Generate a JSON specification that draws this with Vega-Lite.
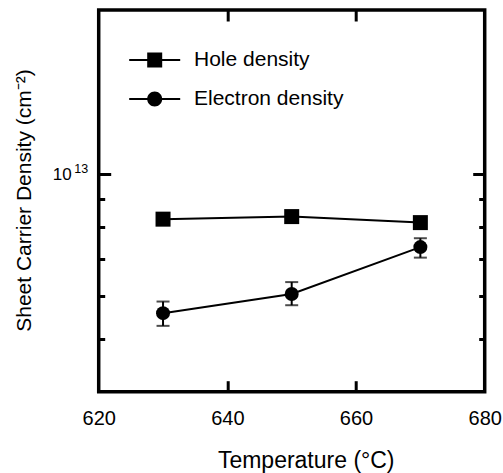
{
  "$schema": "https://vega.github.io/schema/vega-lite/v6.json",
  "autosize": {"type": "none"},
  "width": 386,
  "height": 381.7,
  "padding": {"left": 98.7, "top": 10, "right": 18.3, "bottom": 81.3},
  "background": "white",
  "config": {
    "font": "Liberation Sans",
    "view": {"stroke": "black", "strokeWidth": 3.5},
    "axis": {"domain": false, "grid": false, "labelColor": "black", "titleColor": "black", "tickColor": "black", "labelFlush": false}
  },
  "data": {
    "values": [
      {"series": "Hole density", "temp": 630, "density": 8.28e12},
      {"series": "Hole density", "temp": 650, "density": 8.37e12},
      {"series": "Hole density", "temp": 670, "density": 8.16e12},
      {"series": "Electron density", "temp": 630, "density": 5.57e12, "lo": 5.28e12, "hi": 5.85e12},
      {"series": "Electron density", "temp": 650, "density": 6.04e12, "lo": 5.76e12, "hi": 6.35e12},
      {"series": "Electron density", "temp": 670, "density": 7.36e12, "lo": 7.04e12, "hi": 7.64e12}
    ]
  },
  "layer": [
    {
      "mark": {"type": "line", "color": "black", "strokeWidth": 2},
      "encoding": {
        "x": {"field": "temp", "type": "quantitative", "scale": {"domain": [620, 680], "nice": false, "zero": false},
          "axis": {"orient": "bottom", "values": [620, 640, 660, 680], "ticks": false, "tickSize": 0, "labelPadding": 17, "labelFontSize": 20, "labelFont": "Liberation Sans",
            "title": "Temperature (°C)", "titleFontSize": 23, "titleFontWeight": "normal", "titleX": 207, "titleY": 76, "titleBaseline": "alphabetic", "titleAlign": "center"}},
        "y": {"field": "density", "type": "quantitative", "scale": {"type": "log", "domain": [4e12, 2e13], "nice": false},
          "axis": {"orient": "left", "values": [1e13], "labelExpr": "'10'", "ticks": false, "tickSize": 0, "labelPadding": 27.5, "labelFontSize": 17,
            "title": "Sheet Carrier Density (cm⁻²)", "titleFontSize": 21, "titleFontWeight": "normal", "titleAngle": 270, "titleX": -68, "titleY": 190, "titleBaseline": "alphabetic", "titleAlign": "center"}},
        "detail": {"field": "series", "type": "nominal"}
      }
    },
    {
      "transform": [{"filter": "datum.lo != null"}],
      "mark": {"type": "rule", "color": "black", "strokeWidth": 2},
      "encoding": {
        "x": {"field": "temp", "type": "quantitative", "scale": {"domain": [620, 680], "nice": false, "zero": false},
          "axis": {"orient": "bottom", "values": [640, 660], "labels": false, "tickSize": -11, "tickWidth": 3, "title": null}},
        "y": {"field": "lo", "type": "quantitative", "scale": {"type": "log", "domain": [4e12, 2e13], "nice": false},
          "axis": {"orient": "left", "values": [1e13], "labels": false, "tickSize": -12, "tickWidth": 3, "title": null}},
        "y2": {"field": "hi"}
      }
    },
    {
      "transform": [{"filter": "datum.lo != null"}],
      "mark": {"type": "tick", "color": "black", "orient": "horizontal", "size": 13, "thickness": 2},
      "encoding": {
        "x": {"field": "temp", "type": "quantitative", "scale": {"domain": [620, 680], "nice": false, "zero": false},
          "axis": {"orient": "top", "values": [640, 660], "labels": false, "tickSize": -11, "tickWidth": 3, "title": null}},
        "y": {"field": "lo", "type": "quantitative", "scale": {"type": "log", "domain": [4e12, 2e13], "nice": false},
          "axis": {"orient": "left", "values": [5e12, 6e12, 7e12, 8e12, 9e12], "labels": false, "tickSize": -6, "tickWidth": 3, "title": null}}
      }
    },
    {
      "transform": [{"filter": "datum.lo != null"}],
      "mark": {"type": "tick", "color": "black", "orient": "horizontal", "size": 13, "thickness": 2},
      "encoding": {
        "x": {"field": "temp", "type": "quantitative", "scale": {"domain": [620, 680], "nice": false, "zero": false}, "axis": null},
        "y": {"field": "hi", "type": "quantitative", "scale": {"type": "log", "domain": [4e12, 2e13], "nice": false},
          "axis": {"orient": "right", "values": [1e13], "labels": false, "tickSize": -12, "tickWidth": 3, "title": null}}
      }
    },
    {
      "transform": [{"filter": "datum.series == 'Hole density'"}],
      "mark": {"type": "point", "shape": "square", "filled": true, "color": "black", "opacity": 1, "size": 225},
      "encoding": {
        "x": {"field": "temp", "type": "quantitative", "scale": {"domain": [620, 680], "nice": false, "zero": false}, "axis": null},
        "y": {"field": "density", "type": "quantitative", "scale": {"type": "log", "domain": [4e12, 2e13], "nice": false},
          "axis": {"orient": "right", "values": [5e12, 6e12, 7e12, 8e12, 9e12], "labels": false, "tickSize": -6, "tickWidth": 3, "title": null}}
      }
    },
    {
      "transform": [{"filter": "datum.series == 'Electron density'"}],
      "mark": {"type": "point", "shape": "circle", "filled": true, "color": "black", "opacity": 1, "size": 196},
      "encoding": {
        "x": {"field": "temp", "type": "quantitative", "scale": {"domain": [620, 680], "nice": false, "zero": false}, "axis": null},
        "y": {"field": "density", "type": "quantitative", "scale": {"type": "log", "domain": [4e12, 2e13], "nice": false},
          "axis": {"orient": "left", "values": [1e13], "labelExpr": "'13'", "ticks": false, "tickSize": 0, "labelPadding": 11, "labelFontSize": 12.5, "labelOffset": -6, "title": null}}
      }
    },
    {
      "mark": {"type": "point", "filled": true, "color": "black", "opacity": 0, "size": 225},
      "encoding": {
        "x": {"field": "temp", "type": "quantitative", "scale": {"domain": [620, 680], "nice": false, "zero": false}, "axis": null},
        "y": {"field": "density", "type": "quantitative", "scale": {"type": "log", "domain": [4e12, 2e13], "nice": false}, "axis": null},
        "shape": {"field": "series", "type": "nominal",
          "scale": {"domain": ["Hole density", "Electron density"],
            "range": ["M-3.4,-0.14H3.4V0.14H-3.4Z M-1,-1H1V1H-1Z", "M-3.4,-0.14H3.4V0.14H-3.4Z M-1,0A1,1,0,1,1,1,0A1,1,0,1,1,-1,0Z"]},
          "legend": {"orient": "none", "legendX": 45.5, "legendY": 39.5, "title": null, "padding": 0,
            "symbolSize": 225, "symbolFillColor": "black", "symbolStrokeColor": "black", "symbolStrokeWidth": 0, "symbolOpacity": 1,
            "labelFontSize": 21, "labelFont": "Liberation Sans", "labelColor": "black", "labelOffset": 28.8, "rowPadding": 17, "labelLimit": 300}}
      }
    }
  ],
  "resolve": {"axis": {"x": "independent", "y": "independent"}}
}
